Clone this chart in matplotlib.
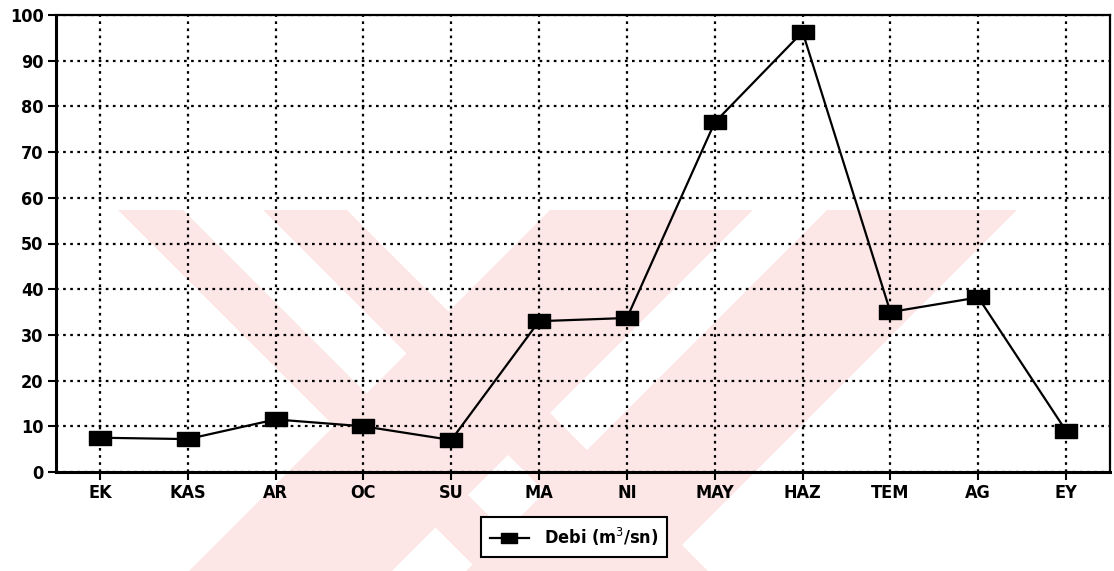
import matplotlib.pyplot as plt
from matplotlib.path import Path
from matplotlib.patches import Polygon

months = ['EK', 'KAS', 'AR', 'OC', 'SU', 'MA', 'NI', 'MAY', 'HAZ', 'TEM', 'AG', 'EY']
debi = [7.5, 7.2, 11.5, 10.0, 7.0, 33.0, 33.7, 76.5, 96.3, 35.0, 38.2, 9.0]
y_ticks = list(range(0, 101, 10))

plt.rcParams['font.family'] = ['DejaVu Sans']
plt.rcParams['font.stretch'] = 'condensed'

fig = plt.figure(figsize=(11.14, 5.71), dpi=100)

# faded watermark (pink X) behind the chart
pink = '#fce6e6'
W, H = 1114, 571
def band(pts):
    fig.patches.append(Polygon([(x / W, 1 - y / H) for x, y in pts], closed=True,
                               transform=fig.transFigure, facecolor=pink,
                               edgecolor='none', zorder=-5))
band([(118, 210), (183, 210), (544, 571), (479, 571)])
band([(263, 210), (347, 210), (708, 571), (624, 571)])
band([(550, 210), (753, 210), (392, 571), (189, 571)])
band([(827, 210), (1017, 210), (656, 571), (466, 571)])

ax = fig.add_axes([56 / W, 99 / H, (1110 - 56) / W, (472 - 15) / H])
ax.set_facecolor('none')
ax.set_zorder(2)

rect = Path([(-1, -0.62), (1, -0.62), (1, 0.62), (-1, 0.62), (-1, -0.62)],
            [Path.MOVETO, Path.LINETO, Path.LINETO, Path.LINETO, Path.CLOSEPOLY])
x = range(len(months))
ax.plot(x, debi, color='black', lw=1.6, marker=rect, markersize=16,
        markerfacecolor='black', markeredgecolor='black', label='Debi (m$^3$/sn)',
        zorder=5)

ax.set_xlim(-0.5, len(months) - 0.5)
ax.set_ylim(0, 100)
ax.set_xticks(list(x))
ax.set_xticklabels(months)
ax.set_yticks(y_ticks)
ax.grid(True, color='black', linestyle=(0, (1.2, 2)), linewidth=1.6)
ax.tick_params(axis='both', direction='out', length=6, width=1.5, labelsize=13, pad=3)
for lab in ax.get_xticklabels() + ax.get_yticklabels():
    lab.set_fontweight('bold')

for side in ['left', 'bottom']:
    ax.spines[side].set_linewidth(2.2)
for side in ['top', 'right']:
    ax.spines[side].set_linewidth(1.6)

leg = fig.legend(loc='center', bbox_to_anchor=(574 / W, 1 - 537 / H), fancybox=False,
                 edgecolor='black', framealpha=1, fontsize=13, handlelength=2.2,
                 markerscale=0.7, borderpad=0.5)
leg.get_frame().set_linewidth(1.5)
leg.set_zorder(3)
for t in leg.get_texts():
    t.set_fontweight('bold')

fig.savefig('out.png', dpi=100)
